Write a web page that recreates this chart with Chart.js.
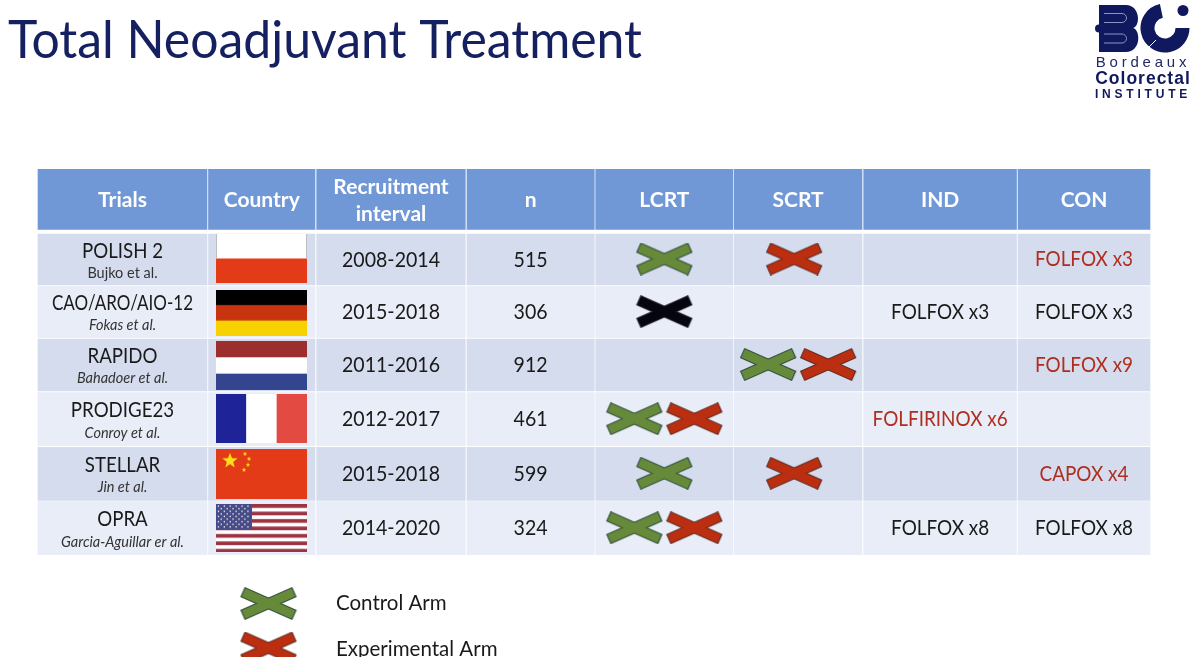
<!DOCTYPE html>
<html>
<head>
<meta charset="utf-8">
<title>Total Neoadjuvant Treatment</title>
<script src="https://cdn.jsdelivr.net/npm/chart.js@4"></script>
<style>
  html, body { margin: 0; padding: 0; background: #fff; overflow: hidden; }
  canvas { display: block; }
</style>
</head>
<body>
<canvas id="table" width="1200" height="657"></canvas>
<script>
// Table content
const headers = ['Trials', 'Country', 'Recruitment\ninterval', 'n', 'LCRT', 'SCRT', 'IND', 'CON'];
const trials = ['POLISH 2', 'CAO/ARO/AIO-12', 'RAPIDO', 'PRODIGE23', 'STELLAR', 'OPRA'];
const authors = ['Bujko et al.', 'Fokas et al.', 'Bahadoer et al.', 'Conroy et al.', 'Jin et al.', 'Garcia-Aguillar er al.'];
const countries = ['poland', 'germany', 'netherlands', 'france', 'china', 'usa'];
const intervals = ['2008-2014', '2015-2018', '2011-2016', '2012-2017', '2015-2018', '2014-2020'];
const enrolled = [515, 306, 912, 461, 599, 324];
const lcrtArms = [['control'], ['standard'], [], ['control', 'experimental'], ['control'], ['control', 'experimental']];
const scrtArms = [['experimental'], [], ['control', 'experimental'], [], ['experimental'], []];
const indRegimens = ['', 'FOLFOX x3', '', 'FOLFIRINOX x6', '', 'FOLFOX x8'];
const indExperimental = [false, false, false, true, false, false];
const conRegimens = ['FOLFOX x3', 'FOLFOX x3', 'FOLFOX x9', '', 'CAPOX x4', 'FOLFOX x8'];
const conExperimental = [true, false, true, false, true, false];
const legendArms = ['control', 'experimental'];
const legendLabels = ['Control Arm', 'Experimental Arm'];

// Layout of the slide, in scale units
const COLUMN_EDGES = [[38, 207], [208.5, 315], [316.7, 465.3], [467, 594.3], [595.7, 733], [734.3, 862], [863.7, 1016.5], [1018, 1150]];
const HEADER_EDGE = [169.3, 229.5];
const ROW_EDGES = [[234, 285], [286.7, 337.5], [339, 391], [392.7, 445.7], [447.3, 500.3], [501.7, 554.7]];
const FLAG_EDGES = [[234, 283], [290, 335.7], [341, 390], [394.3, 443.3], [449, 498.7], [504, 552.3]];
const FLAG_X = [216, 307];
const ROW_COLOURS = ['#d5dcee', '#e9edf7'];
const HEADER_COLOUR = '#7097d6';
const INK = '#1a1a1a';
const RED_INK = '#ae2f1f';
const NAVY = '#14205f';
const FONT = 'Lato, sans-serif';
const LOGO_FONT = '"Liberation Sans", sans-serif';

const centre = e => (e[0] + e[1]) / 2;

// Cross marker, same shape for every arm
const ARM_STYLES = {
  control: ['#668a3a', '#2c4a3c'],
  experimental: ['#bb2f10', '#5c2a22'],
  standard: ['#05050f', '#24242c']
};
function makeCross(arm) {
  const c = document.createElement('canvas');
  c.width = 58; c.height = 33;
  const g = c.getContext('2d');
  const bars = (inset, w, colour) => {
    g.strokeStyle = colour; g.lineWidth = w; g.lineCap = 'butt';
    g.beginPath();
    g.moveTo(3 + inset, 5 + inset * 0.45); g.lineTo(55 - inset, 28 - inset * 0.45);
    g.moveTo(3 + inset, 28 - inset * 0.45); g.lineTo(55 - inset, 5 + inset * 0.45);
    g.stroke();
  };
  bars(0, 11, ARM_STYLES[arm][1]);
  bars(1, 9, ARM_STYLES[arm][0]);
  return c;
}
const crossImages = {};
Object.keys(ARM_STYLES).forEach(a => { crossImages[a] = makeCross(a); });

// Flags
function stripes(g, w, h, colours) {
  colours.forEach((col, i) => {
    g.fillStyle = col;
    g.fillRect(0, h * i / colours.length, w, h / colours.length + 0.5);
  });
}
function star(g, x, y, r) {
  g.beginPath();
  for (let i = 0; i < 10; i++) {
    const a = -Math.PI / 2 + i * Math.PI / 5;
    const d = i % 2 ? r * 0.42 : r;
    g.lineTo(x + d * Math.cos(a), y + d * Math.sin(a));
  }
  g.closePath();
  g.fill();
}
const flagPainters = {
  poland(g, w, h) {
    stripes(g, w, h, ['#ffffff', '#e33b17']);
    g.strokeStyle = '#bdbdc4'; g.lineWidth = 1;
    g.beginPath(); g.moveTo(0.5, 0); g.lineTo(0.5, h / 2); g.moveTo(w - 0.5, 0); g.lineTo(w - 0.5, h / 2); g.stroke();
  },
  germany(g, w, h) { stripes(g, w, h, ['#000000', '#c8340f', '#f7d100']); },
  netherlands(g, w, h) { stripes(g, w, h, ['#9c2f2d', '#ffffff', '#33458f']); },
  france(g, w, h) {
    g.fillStyle = '#1f2398'; g.fillRect(0, 0, w / 3, h);
    g.fillStyle = '#ffffff'; g.fillRect(w / 3, 0, w / 3, h);
    g.fillStyle = '#e34a42'; g.fillRect(2 * w / 3, 0, w / 3, h);
  },
  china(g, w, h) {
    g.fillStyle = '#e33b17'; g.fillRect(0, 0, w, h);
    g.fillStyle = '#fbe018';
    star(g, 14, 12, 8);
    [[29, 5, 2.4], [33, 10, 2.4], [32, 16, 2.4], [28, 21, 2.4]].forEach(s => star(g, s[0], s[1], s[2]));
  },
  usa(g, w, h) {
    g.fillStyle = '#ffffff'; g.fillRect(0, 0, w, h);
    g.fillStyle = '#9a3342';
    for (let i = 0; i < 7; i++) g.fillRect(0, i * 7.45, w, 3.7);
    g.fillStyle = '#474b87'; g.fillRect(0, 0, 36, 25);
    g.fillStyle = '#ffffff';
    for (let r = 0; r < 9; r++) {
      for (let k = 0; k < (r % 2 ? 5 : 6); k++) {
        g.fillRect((r % 2 ? 4.6 : 1.8) + k * 5.9, 1.3 + r * 2.6, 1.3, 1.3);
      }
    }
  }
};
const flagImages = countries.map((name, i) => {
  const c = document.createElement('canvas');
  c.width = FLAG_X[1] - FLAG_X[0];
  c.height = Math.round(FLAG_EDGES[i][1] - FLAG_EDGES[i][0]);
  flagPainters[name](c.getContext('2d'), c.width, c.height);
  return c;
});

// BC logo mark
function makeLogo() {
  const c = document.createElement('canvas');
  c.width = 100; c.height = 50;
  const g = c.getContext('2d');
  g.fillStyle = '#10185e';
  // B
  g.beginPath();
  g.moveTo(5, 1); g.lineTo(32, 1);
  g.bezierCurveTo(46, 1, 47, 22, 39, 24);
  g.bezierCurveTo(47, 26, 47, 48, 32, 48);
  g.lineTo(5, 48);
  g.closePath();
  g.fill();
  g.beginPath();
  g.roundRect(1, 20.5, 30, 8, 4);
  g.fill();
  g.strokeStyle = '#8f94c4'; g.lineWidth = 1;
  [[10, 9.5, 22, 9], [10, 30, 22, 9]].forEach(r => {
    g.beginPath();
    g.moveTo(r[0], r[1]); g.lineTo(r[0] + r[2] - 4, r[1]);
    g.arc(r[0] + r[2] - 4, r[1] + r[3] / 2, r[3] / 2, -Math.PI / 2, Math.PI / 2);
    g.lineTo(r[0], r[1] + r[3]);
    g.stroke();
  });
  // C
  g.strokeStyle = '#10185e'; g.lineWidth = 14; g.lineCap = 'butt';
  g.beginPath();
  g.arc(71, 24, 17.5, -1.78, 0.0, true);
  g.stroke();
  g.strokeStyle = '#ffffff'; g.lineWidth = 1;
  g.beginPath(); g.moveTo(53, 45); g.lineTo(62, 36); g.stroke();
  // dot
  g.fillStyle = '#10185e';
  g.beginPath(); g.arc(89, 6.5, 5.5, 0, Math.PI * 2); g.fill();
  return c;
}

// Marks for LCRT and SCRT: one cross sits on the column, two sit side by side
const crossPoints = [];
const crossStyles = [];
function addCrosses(arms, col, singleShift) {
  arms.forEach((list, r) => {
    list.forEach((arm, k) => {
      const shift = list.length === 1 ? singleShift : (k === 0 ? -30 : 30);
      crossPoints.push({ x: centre(COLUMN_EDGES[col]) + shift, y: centre(ROW_EDGES[r]) - 0.5 });
      crossStyles.push(crossImages[arm]);
    });
  });
}
addCrosses(lcrtArms, 4, 0);
addCrosses(scrtArms, 5, -4);

// Every table cell is a floating bar, one dataset for each column
const cellDatasets = COLUMN_EDGES.map(edge => ({
  type: 'bar',
  order: 5,
  grouped: false,
  barThickness: edge[1] - edge[0],
  borderWidth: 0,
  data: [HEADER_EDGE].concat(ROW_EDGES).map(e => ({ x: centre(edge), y: e })),
  backgroundColor: [HEADER_COLOUR].concat(ROW_EDGES.map((e, r) => ROW_COLOURS[r % 2]))
}));

// squeeze narrows Lato towards the slide's Calibri proportions
function writeText(g, text, x, y, font, colour, opts) {
  const o = opts || {};
  g.font = font;
  g.fillStyle = colour;
  g.textAlign = o.align || 'center';
  g.textBaseline = 'middle';
  g.letterSpacing = o.spacing || '0px';
  let w = g.measureText(text).width * (o.squeeze || 1);
  if (o.maxWidth) w = Math.min(w, o.maxWidth);
  if (text) g.fillText(text, x, y, w);
  g.letterSpacing = '0px';
}

const tableText = {
  id: 'tableText',
  afterDatasetsDraw(chart) {
    const g = chart.ctx;
    const xs = chart.scales.x, ys = chart.scales.y;
    const px = v => xs.getPixelForValue(v);
    const py = v => ys.getPixelForValue(v);
    g.save();
    writeText(g, 'Total Neoadjuvant Treatment', px(8), py(41), '53px ' + FONT, NAVY, { align: 'left', maxWidth: 634 });

    // logo lettering
    writeText(g, 'Bordeaux', px(1143), py(63), '15px ' + LOGO_FONT, '#222a66', { spacing: '3.8px' });
    writeText(g, 'Colorectal', px(1143), py(79), 'bold 17.5px ' + LOGO_FONT, '#10185e', { spacing: '1px' });
    writeText(g, 'INSTITUTE', px(1143), py(95), 'bold 12px ' + LOGO_FONT, '#10185e', { spacing: '3.8px' });

    headers.forEach((h, c) => {
      const lines = h.split('\n');
      const mid = centre(HEADER_EDGE) + 1;
      lines.forEach((line, k) => {
        const y = mid + (k - (lines.length - 1) / 2) * 27;
        writeText(g, line, px(centre(COLUMN_EDGES[c])), py(y), 'bold 21px ' + FONT, '#ffffff');
      });
    });

    trials.forEach((t, r) => {
      const mid = centre(ROW_EDGES[r]);
      const first = centre(COLUMN_EDGES[0]);
      writeText(g, t, px(first), py(mid - 8.5), '21px ' + FONT, INK, { squeeze: 0.89, maxWidth: 141 });
      writeText(g, authors[r], px(first), py(mid + 13.7), (r === 0 ? '' : 'italic ') + '14.5px ' + FONT, '#333333');
      writeText(g, intervals[r], px(centre(COLUMN_EDGES[2])), py(mid), '22px ' + FONT, INK, { squeeze: 0.89 });
      writeText(g, String(enrolled[r]), px(centre(COLUMN_EDGES[3])), py(mid), '22px ' + FONT, INK, { squeeze: 0.89 });
      writeText(g, indRegimens[r], px(centre(COLUMN_EDGES[6])), py(mid), '21px ' + FONT, indExperimental[r] ? RED_INK : INK, { squeeze: 0.9 });
      writeText(g, conRegimens[r], px(centre(COLUMN_EDGES[7])), py(mid), '21px ' + FONT, conExperimental[r] ? RED_INK : INK, { squeeze: 0.9 });
    });

    legendLabels.forEach((label, i) => {
      writeText(g, label, px(336), py(603.5 + i * 46), '20.5px ' + FONT, INK, { align: 'left' });
    });
    g.restore();
  }
};

new Chart(document.getElementById('table'), {
  type: 'bar',
  data: {
    datasets: cellDatasets.concat([
      {
        type: 'scatter',
        order: 1,
        data: FLAG_EDGES.map(e => ({ x: centre(FLAG_X), y: centre(e) })),
        pointStyle: flagImages,
        pointRadius: 3
      },
      {
        type: 'scatter',
        order: 0,
        data: crossPoints,
        pointStyle: crossStyles,
        pointRadius: 3
      },
      {
        type: 'scatter',
        order: 0,
        data: legendArms.map((a, i) => ({ x: 268.5, y: 603.5 + i * 44.5 })),
        pointStyle: legendArms.map(a => crossImages[a]),
        pointRadius: 3
      },
      {
        type: 'scatter',
        order: 0,
        data: [{ x: 1144, y: 29 }],
        pointStyle: makeLogo(),
        pointRadius: 3
      }
    ])
  },
  options: {
    responsive: false,
    animation: false,
    devicePixelRatio: 1,
    layout: { padding: 0, autoPadding: false },
    plugins: { legend: { display: false }, tooltip: { enabled: false } },
    scales: {
      x: { type: 'linear', min: 0, max: 1200, display: false, offset: false, grid: { display: false } },
      y: { type: 'linear', min: 0, max: 657, reverse: true, display: false, grid: { display: false } }
    }
  },
  plugins: [tableText]
});
</script>
</body>
</html>
